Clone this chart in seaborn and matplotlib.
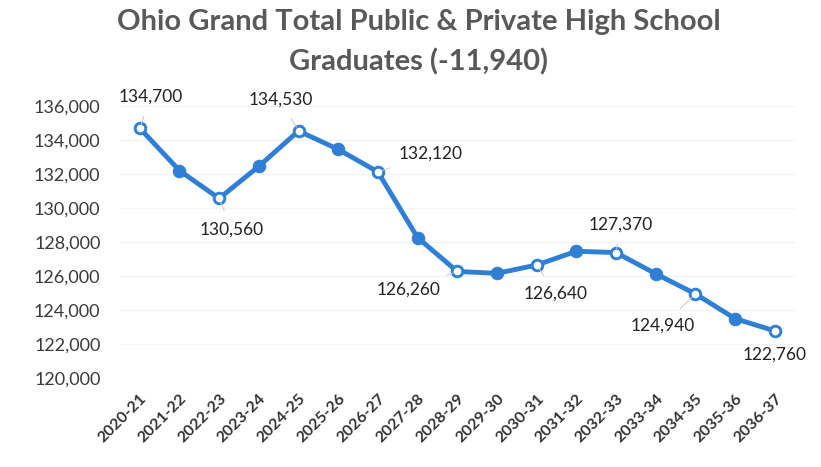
import matplotlib
matplotlib.use("Agg")
import matplotlib.pyplot as plt
import seaborn as sns
import pandas as pd

# School years on the category axis
seasons = ["2020-21", "2021-22", "2022-23", "2023-24", "2024-25", "2025-26",
           "2026-27", "2027-28", "2028-29", "2029-30", "2030-31", "2031-32",
           "2032-33", "2033-34", "2034-35", "2035-36", "2036-37"]

# Projected graduates (public + private)
graduates = [134700, 132200, 130560, 132450, 134530, 133450, 132120, 128250,
             126260, 126150, 126640, 127450, 127370, 126120, 124940, 123480,
             122760]

# Which points carry a data label, and where the label sits (pixel offsets)
labeled = [0, 2, 4, 6, 8, 10, 12, 14, 16]
label_offsets = {0: (11, 31), 2: (13, -31), 4: (-18, 31), 6: (53, 18),
                 8: (-49, -18), 10: (19, -29), 12: (5, 28), 14: (-33, -32),
                 16: (0, -24)}

yticks = list(range(120000, 136001, 2000))

sns.set_theme(style="white")
plt.rcParams["font.family"] = ["Lato", "DejaVu Sans"]

df = pd.DataFrame({"season": seasons, "graduates": graduates})

fig = plt.figure(figsize=(8.21, 4.67), dpi=100)
ax = fig.add_axes([0.146, 0.191, 0.822, 0.582])

blue = "#2F7FD6"
sns.lineplot(data=df, x="season", y="graduates", ax=ax, color=blue,
             linewidth=3.5, marker="o", markersize=9,
             markeredgecolor=blue, markerfacecolor=blue, sort=False)

ax.set_xlim(-0.5, len(seasons) - 0.5)
ax.set_ylim(yticks[0], yticks[-1])
ax.set_yticks(yticks)
ax.set_yticklabels([f"{v:,}" for v in yticks], fontsize=13, color="#3a3a3a")
ax.set_xticks(range(len(seasons)))
ax.set_xticklabels(seasons, rotation=45, ha="right", rotation_mode="anchor",
                   fontsize=11.5, color="#333333", fontweight="bold")
ax.tick_params(axis="y", length=0, pad=14)
ax.tick_params(axis="x", length=0, pad=10)
ax.set_xlabel("")
ax.set_ylabel("")
ax.yaxis.grid(True, color="#f3f3f3", linewidth=0.8)
ax.set_axisbelow(True)
for s in ax.spines.values():
    s.set_visible(False)

for i in labeled:
    dx, dy = label_offsets[i]
    ax.annotate(f"{graduates[i]:,}", xy=(i, graduates[i]),
                xytext=(dx, dy), textcoords="offset pixels",
                ha="center", va="center", fontsize=12.5, color="#222222",
                arrowprops=dict(arrowstyle="-", color="#c8c8c8", lw=0.7,
                                shrinkA=6, shrinkB=3))
    ax.plot(i, graduates[i], "o", markersize=4.5, color="white", zorder=5)

fig.text(0.51, 0.952, "Ohio Grand Total Public & Private High School",
         ha="center", va="center", fontsize=21, color="#595959",
         fontweight="bold")
fig.text(0.51, 0.867, "Graduates (-11,940)",
         ha="center", va="center", fontsize=21, color="#595959",
         fontweight="bold")

fig.savefig("out.png", dpi=100, facecolor="white")
